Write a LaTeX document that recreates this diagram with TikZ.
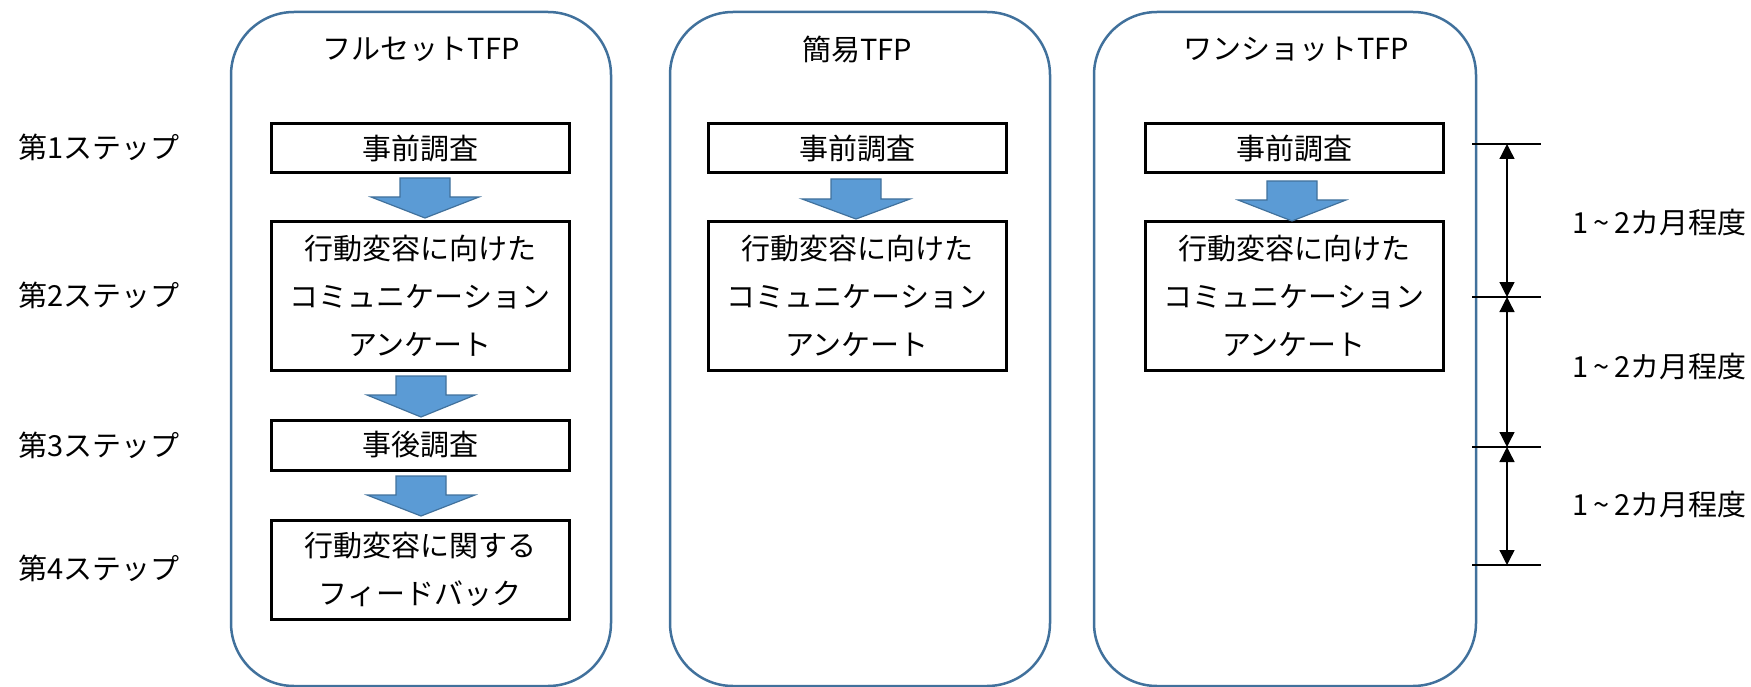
\documentclass[tikz,border=0pt]{standalone}
\usepackage{fontspec}
\setmainfont{Noto Sans CJK JP}
\usetikzlibrary{arrows.meta,calc}
\definecolor{frameblue}{HTML}{41719C}
\definecolor{arrowfill}{HTML}{5B9BD5}
\tikzset{
  container/.style={draw=frameblue,line width=2.5pt,rounded corners=63pt},
  stepbox/.style={draw=black,line width=3pt,inner sep=0pt,align=center,
    font=\fontsize{29}{48}\selectfont},
  blockarrow/.style={draw=frameblue,fill=arrowfill,line width=1.2pt,line join=miter},
  title/.style={font=\fontsize{29}{35}\selectfont,inner sep=0pt},
  lbl/.style={font=\fontsize{29}{35}\selectfont,inner sep=0pt,anchor=west},
  tick/.style={draw=black,line width=2.5pt},
  dim/.style={draw=black,line width=1.3pt,{Triangle[width=15pt,length=15pt]}-{Triangle[width=15pt,length=15pt]}}
}
\newcommand\barrow[4]{% x center, shaft top, head y, tip y
  \path[blockarrow] (#1-25,#2) -- (#1+25,#2) -- (#1+25,#3) -- (#1+54,#3)
    -- (#1,#4) -- (#1-54,#3) -- (#1-25,#3) -- cycle;}
\newcommand\months{1\,\textasciitilde\,2カ月程度}
\begin{document}
\begin{tikzpicture}[x=1pt,y=-1pt]
\useasboundingbox (0,0) rectangle (1751,687);
% containers
\draw[container] (231,12) rectangle (611,686);
\draw[container] (670,12) rectangle (1050,686);
\draw[container] (1094,12) rectangle (1476,686);
% titles
\node[title] (t1) at (421,49) {フルセットTFP};
\node[title] (t2) at (857,49) {簡易TFP};
\node[title] (t3) at (1296,49) {ワンショットTFP};
% step labels
\node[lbl] (s1) at (18,147) {第1ステップ};
\node[lbl] (s2) at (18,295) {第2ステップ};
\node[lbl] (s3) at (18,445) {第3ステップ};
\node[lbl] (s4) at (18,568) {第4ステップ};
% column 1
\node[stepbox,minimum width=298pt,minimum height=49pt] (a1) at (420,148.5) {事前調査};
\node[stepbox,minimum width=298pt,minimum height=148pt] (a2) at (420,296) {行動変容に向けた\\コミュニケーション\\アンケート};
\node[stepbox,minimum width=298pt,minimum height=50pt] (a3) at (420,445) {事後調査};
\node[stepbox,minimum width=298pt,minimum height=99pt] (a4) at (420,569.5) {行動変容に関する\\フィードバック};
\barrow{425}{178}{197}{218}
\barrow{421}{376}{395}{417}
\barrow{421}{476}{495}{516}
% column 2
\node[stepbox,minimum width=298pt,minimum height=49pt] (b1) at (857,148.5) {事前調査};
\node[stepbox,minimum width=298pt,minimum height=148pt] (b2) at (857,296) {行動変容に向けた\\コミュニケーション\\アンケート};
\barrow{856}{179}{199}{219}
% column 3
\node[stepbox,minimum width=298pt,minimum height=49pt] (c1) at (1294,148.5) {事前調査};
\node[stepbox,minimum width=298pt,minimum height=148pt] (c2) at (1294,296) {行動変容に向けた\\コミュニケーション\\アンケート};
\barrow{1292}{181}{200}{221}
% dimension lines
\coordinate (d1) at (1507,144);
\coordinate (d2) at (1507,297);
\coordinate (d3) at (1507,447);
\coordinate (d4) at (1507,565);
\foreach \d in {d1,d2,d3,d4}{\draw[tick] ($(\d)+(-35,0)$) -- ($(\d)+(34,0)$);}
\draw[dim] (d1) -- (d2);
\draw[dim] (d2) -- (d3);
\draw[dim] (d3) -- (d4);
\node[lbl] (m1) at (1572,223) {\months};
\node[lbl] (m2) at (1572,367) {\months};
\node[lbl] (m3) at (1572,505) {\months};
\end{tikzpicture}
\end{document}
